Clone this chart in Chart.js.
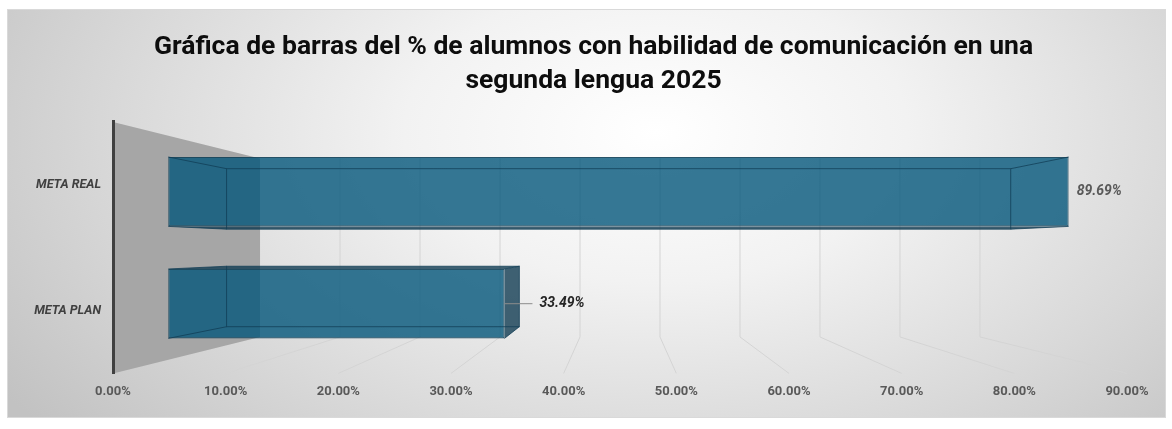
<!DOCTYPE html>
<html>
<head>
<meta charset="utf-8">
<script src="https://cdn.jsdelivr.net/npm/chart.js@4.4.1/dist/chart.umd.min.js"></script>
<style>
  html, body { margin: 0; padding: 0; background: #fff; }
  #wrap { position: relative; width: 1172px; height: 429px; }
  #frame {
    position: absolute; left: 7px; top: 9px; width: 1157px; height: 407px;
    border: 1px solid #d9d9d9;
    background: radial-gradient(ellipse 68% 115% at 56% 30%, #ffffff 0%, #f2f2f2 32%, #d9d9d9 68%, #c2c2c2 100%);
  }
  #chart { position: absolute; left: 0; top: 0; }
</style>
</head>
<body>
<div id="wrap">
  <div id="frame"></div>
  <canvas id="chart" width="1172" height="429"></canvas>
</div>
<script>
const categories  = ['META REAL', 'META PLAN'];
const values      = [89.69, 33.49];
const valueLabels = ['89.69%', '33.49%'];
const tickValues  = [0, 10, 20, 30, 40, 50, 60, 70, 80, 90];
const tickLabels  = ['0.00%', '10.00%', '20.00%', '30.00%', '40.00%', '50.00%', '60.00%', '70.00%', '80.00%', '90.00%'];

// fake 3D: everything is shrunk towards the centre of the plot area
const DEPTH = { wall: 0.71, front: 0.891, back: 0.776 };
const labelShift = [8, 35];

function toDepth(a, x, y, k) {
  const cx = (a.left + a.right) / 2, cy = (a.top + a.bottom) / 2;
  return [cx + (x - cx) * k, cy + (y - cy) * k];
}

function poly(ctx, pts) {
  ctx.beginPath();
  ctx.moveTo(pts[0][0], pts[0][1]);
  for (let i = 1; i < pts.length; i++) ctx.lineTo(pts[i][0], pts[i][1]);
  ctx.closePath();
}

const perspective = {
  id: 'perspective',
  beforeDatasetsDraw(chart) {
    const { ctx, chartArea: a, scales } = chart;
    ctx.save();
    // left wall
    const wt = toDepth(a, a.left, a.top, DEPTH.wall);
    const wb = toDepth(a, a.left, a.bottom, DEPTH.wall);
    poly(ctx, [[a.left, a.top], [a.left, a.bottom], wb, wt]);
    ctx.fillStyle = '#a6a6a6';
    ctx.fill();

    // floor + back wall grid lines
    ctx.strokeStyle = '#d4d4d4';
    ctx.lineWidth = 1;
    tickValues.forEach(v => {
      if (v === 0) return;
      const x = scales.x.getPixelForValue(v);
      const back = toDepth(a, x, a.bottom, DEPTH.wall);
      const top = toDepth(a, x, a.top, DEPTH.wall);
      ctx.beginPath();
      ctx.moveTo(x, a.bottom);
      ctx.lineTo(back[0], back[1]);
      ctx.lineTo(top[0], top[1]);
      ctx.stroke();
    });
    ctx.restore();

    // bars get drawn on the front plane of the boxes
    const [cx, cy] = [(a.left + a.right) / 2, (a.top + a.bottom) / 2];
    ctx.save();
    ctx.translate(cx, cy);
    ctx.scale(DEPTH.front, DEPTH.front);
    ctx.translate(-cx, -cy);
  },
  afterDatasetsDraw(chart) {
    const { ctx, chartArea: a, scales } = chart;
    ctx.restore();
    ctx.save();
    const meta = chart.getDatasetMeta(0);
    meta.data.forEach((bar, i) => {
      const p = bar.getProps(['x', 'y', 'base', 'height'], true);
      const t = p.y - p.height / 2, b = p.y + p.height / 2;
      const fl = toDepth(a, p.base, t, DEPTH.front), fr = toDepth(a, p.x, b, DEPTH.front);
      const bl = toDepth(a, p.base, t, DEPTH.back), br = toDepth(a, p.x, b, DEPTH.back);
      const F = { l: fl[0], t: fl[1], r: fr[0], b: fr[1] };
      const B = { l: bl[0], t: bl[1], r: br[0], b: br[1] };

      ctx.fillStyle = 'rgba(18, 60, 82, 0.8)';
      if (B.t < F.t) { poly(ctx, [[F.l, F.t], [F.r, F.t], [B.r, B.t], [B.l, B.t]]); ctx.fill(); }
      if (B.b > F.b) { poly(ctx, [[F.l, F.b], [F.r, F.b], [B.r, B.b], [B.l, B.b]]); ctx.fill(); }
      if (B.r > F.r) { poly(ctx, [[F.r, F.t], [F.r, F.b], [B.r, B.b], [B.r, B.t]]); ctx.fill(); }

      ctx.strokeStyle = 'rgba(16, 60, 84, 0.75)';
      ctx.lineWidth = 1;
      ctx.strokeRect(B.l, B.t, B.r - B.l, B.b - B.t);
      ctx.beginPath();
      [[F.l, F.t, B.l, B.t], [F.r, F.t, B.r, B.t], [F.l, F.b, B.l, B.b], [F.r, F.b, B.r, B.b]].forEach(s => {
        ctx.moveTo(s[0], s[1]); ctx.lineTo(s[2], s[3]);
      });
      ctx.stroke();

      // value label
      const my = (F.t + F.b) / 2;
      const lx = F.r + labelShift[i];
      if (labelShift[i] > 15) {
        ctx.strokeStyle = '#8c8c8c';
        ctx.beginPath();
        ctx.moveTo(F.r, my);
        ctx.lineTo(lx - 7, my);
        ctx.stroke();
      }
      ctx.font = 'italic bold 14px Roboto';
      ctx.fillStyle = i === 0 ? '#595959' : '#262626';
      ctx.textAlign = 'left';
      ctx.textBaseline = 'middle';
      ctx.fillText(valueLabels[i], lx, my);
    });

    // category names (the axis would clip them to its own box)
    ctx.font = 'italic bold 12.5px Roboto';
    ctx.fillStyle = '#404040';
    ctx.textAlign = 'right';
    ctx.textBaseline = 'middle';
    categories.forEach((c, i) => ctx.fillText(c, a.left - 12, scales.y.getPixelForValue(i)));
    ctx.restore();
  }
};

new Chart(document.getElementById('chart'), {
  type: 'bar',
  data: {
    labels: categories,
    datasets: [{
      data: values,
      backgroundColor: 'rgba(4, 86, 122, 0.8)',
      borderColor: 'rgba(16, 64, 88, 0.9)',
      borderWidth: 1.2,
      borderSkipped: false,
      barPercentage: 1,
      categoryPercentage: 0.62,
      clip: false
    }]
  },
  options: {
    indexAxis: 'y',
    responsive: false,
    animation: false,
    devicePixelRatio: 1,
    layout: { padding: { top: 30, right: 45, bottom: 18, left: 60 } },
    plugins: {
      legend: { display: false },
      tooltip: { enabled: false },
      title: {
        display: true,
        text: ['Gráfica de barras del % de alumnos con habilidad de comunicación en una', 'segunda lengua 2025'],
        color: '#0d0d0d',
        font: { family: 'Roboto', size: 26.5, weight: 'bold', lineHeight: 1.283 },
        padding: { top: 0, bottom: 24 }
      }
    },
    scales: {
      x: {
        type: 'linear',
        min: 0,
        max: 90,
        afterBuildTicks: s => { s.ticks = tickValues.map(v => ({ value: v })); },
        ticks: {
          callback: (v, i) => tickLabels[i],
          color: '#595959',
          font: { family: 'Roboto', size: 13, weight: 'bold' },
          padding: 11,
          maxRotation: 0
        },
        grid: { display: false, drawTicks: false },
        border: { display: false }
      },
      y: {
        afterFit: s => { s.width = 53; },
        ticks: { display: false },
        grid: { display: false, drawTicks: false },
        border: { display: true, color: '#404040', width: 3, z: 1 }
      }
    }
  },
  plugins: [perspective]
});
</script>
</body>
</html>
